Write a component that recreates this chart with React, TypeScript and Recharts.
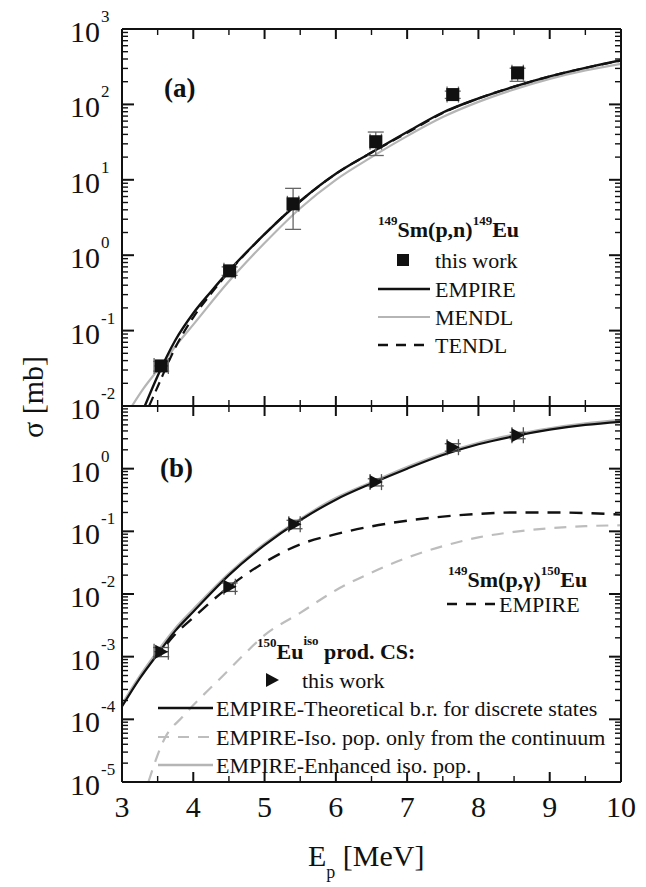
import React from 'react';
import { ComposedChart, Line, Scatter, XAxis, YAxis, ErrorBar } from 'recharts';

const FONT = '"Liberation Serif", "Times New Roman", Times, serif';
const INK = '#111';

// x axis (proton energy, MeV)
const xTicks = [3, 3.5, 4, 4.5, 5, 5.5, 6, 6.5, 7, 7.5, 8, 8.5, 9, 9.5, 10];
const xLabels = ['3', '4', '5', '6', '7', '8', '9', '10'];

// decades shown on each panel
const decadesA = [-2, -1, 0, 1, 2, 3];
const decadesB = [-5, -4, -3, -2, -1, 0, 1];

// (a) 149Sm(p,n)149Eu — measured
const pnE = [3.55, 4.51, 5.4, 6.56, 7.64, 8.55];
const pnSigma = [0.034, 0.62, 4.8, 32, 135, 262];
const pnErrY = [[0.005, 0.005], [0.08, 0.08], [2.6, 2.9], [11, 11], [15, 15], [60, 40]];
const pnErrX = [0.1, 0.08, 0.08, 0.08, 0.08, 0.08];

// (a) model curves
const empireAE = [3.32, 3.5, 3.75, 4, 4.25, 4.5, 5, 5.5, 6, 6.5, 7, 7.5, 8, 8.5, 9, 9.5, 10];
const empireAS = [0.01, 0.025, 0.075, 0.17, 0.33, 0.62, 1.9, 5.2, 12, 23, 43, 78, 120, 172, 235, 305, 385];
const mendlE = [3.14, 3.3, 3.5, 3.75, 4, 4.5, 5, 5.5, 6, 6.5, 7, 7.5, 8, 8.5, 9, 9.5, 10];
const mendlS = [0.01, 0.017, 0.03, 0.062, 0.12, 0.45, 1.45, 4.2, 10, 20, 38, 68, 108, 158, 218, 282, 345];
const tendlE = [3.38, 3.5, 3.75, 4, 4.25, 4.5, 5, 5.5, 6, 6.5, 7, 7.5, 8, 8.5, 9, 9.5, 10];
const tendlS = [0.01, 0.018, 0.06, 0.15, 0.31, 0.6, 1.9, 5.2, 12, 23, 42, 77, 120, 172, 235, 305, 380];

// (b) 150Eu isomer production — measured
const isoE = [3.55, 4.51, 5.42, 6.56, 7.64, 8.55];
const isoSigma = [0.0012, 0.013, 0.13, 0.61, 2.2, 3.4];
const isoErrY = [[0.0002, 0.0002], [0.002, 0.002], [0.02, 0.02], [0.08, 0.08], [0.3, 0.3], [0.4, 0.4]];
const isoErrX = [0.1, 0.08, 0.08, 0.08, 0.08, 0.08];

// (b) model curves
const theoE = [3, 3.25, 3.5, 3.75, 4, 4.5, 5, 5.5, 6, 6.5, 7, 7.5, 8, 8.5, 9, 9.5, 10];
const theoS = [1.6e-4, 4.5e-4, 1.1e-3, 2.6e-3, 5.2e-3, 0.02, 0.06, 0.15, 0.32, 0.58, 1.0, 1.65, 2.45, 3.3, 4.2, 5.0, 5.6];
const enhS = [1.7e-4, 4.8e-4, 1.2e-3, 2.8e-3, 5.6e-3, 0.021, 0.063, 0.155, 0.335, 0.6, 1.05, 1.72, 2.55, 3.45, 4.35, 5.2, 5.9];
const contE = [3.37, 3.6, 3.85, 4.15, 4.42, 4.7, 5, 5.5, 6, 6.5, 7, 7.5, 8, 8.5, 9, 9.5, 10];
const contS = [1e-5, 5e-5, 1.1e-4, 2.5e-4, 5e-4, 1.05e-3, 2.2e-3, 5e-3, 0.0115, 0.022, 0.038, 0.058, 0.08, 0.098, 0.112, 0.121, 0.125];
const pgE = [3.63, 3.75, 4, 4.5, 5, 5.5, 6, 6.5, 7, 7.5, 8, 8.5, 9, 9.5, 10];
const pgS = [1.6e-3, 2.3e-3, 4.2e-3, 0.013, 0.032, 0.062, 0.09, 0.12, 0.148, 0.172, 0.19, 0.2, 0.2, 0.196, 0.185];

const pts = (xs: number[], ys: number[]) => xs.map((x, i) => ({ x, y: ys[i] }));
const measured = (xs: number[], ys: number[], ey: number[][], ex: number[]) =>
  xs.map((x, i) => ({ x, y: ys[i], ey: ey[i], ex: ex[i] }));

const logTicks = (decades: number[]) => {
  const out: number[] = [];
  decades.forEach((d, i) => {
    const base = Math.pow(10, d);
    if (i === decades.length - 1) {
      out.push(base);
      return;
    }
    for (let m = 1; m < 10; m++) out.push(m * base);
  });
  return out;
};

const isDecade = (v: number) => {
  const e = Math.round(Math.log10(v));
  return Math.abs(v / Math.pow(10, e) - 1) < 1e-6;
};

function YTick(props: any) {
  const { x, y, payload, side, labelled } = props;
  const v = payload.value as number;
  const major = isDecade(v);
  const len = major ? 12 : 6;
  const dx = side === 'left' ? len : -len;
  const exp = Math.round(Math.log10(v));
  return (
    <g>
      <line x1={x} y1={y} x2={x + dx} y2={y} stroke={INK} strokeWidth={major ? 2 : 1.4} />
      {side === 'left' && major && labelled.includes(exp) && (
        <g fill={INK}>
          <text x={100} y={y + 13} textAnchor="end" fontSize={30} style={{ fontFamily: FONT }}>10</text>
          <text x={101} y={y - 7} textAnchor="start" fontSize={17} style={{ fontFamily: FONT }}>{String(exp)}</text>
        </g>
      )}
    </g>
  );
}

function XTick(props: any) {
  const { x, y, payload, side, labelled } = props;
  const v = payload.value as number;
  const major = Number.isInteger(v);
  const len = major ? 10 : 6;
  const dy = side === 'top' ? len : -len;
  const label = xLabels.find((l) => Number(l) === v);
  return (
    <g>
      <line x1={x} y1={y} x2={x} y2={y + dy} stroke={INK} strokeWidth={major ? 2 : 1.4} />
      {labelled && major && label && (
        <text x={x} y={y + 35} textAnchor="middle" style={{ fontFamily: FONT }} fontSize={30} fill={INK}>
          {label}
        </text>
      )}
    </g>
  );
}

const Square = (p: any) => <rect x={p.cx - 6.5} y={p.cy - 6.5} width={13} height={13} fill={INK} />;
const TriRight = (p: any) => (
  <polygon points={`${p.cx - 6},${p.cy - 7} ${p.cx + 7},${p.cy} ${p.cx - 6},${p.cy + 7}`} fill={INK} />
);

// axis boxes are 1px thick (recharts skips zero-size axes), margins compensate
function axes(domain: [number, number], ticksY: number[], labelledY: number[], bottomLabels: boolean) {
  const axisLine = { stroke: INK, strokeWidth: 2 };
  const common = { tickSize: 0, tickMargin: 0, tickLine: false, axisLine, allowDataOverflow: true, interval: 0 as const };
  return [
    <XAxis key="xb" xAxisId="b" dataKey="x" type="number" domain={[3, 10]} ticks={xTicks} height={1} {...common}
      tick={(p: any) => <XTick {...p} side="bottom" labelled={bottomLabels} />} />,
    <XAxis key="xt" xAxisId="t" orientation="top" dataKey="x" type="number" domain={[3, 10]} ticks={xTicks} height={1} {...common}
      tick={(p: any) => <XTick {...p} side="top" labelled={false} />} />,
    <YAxis key="yl" yAxisId="l" type="number" scale="log" domain={domain} ticks={ticksY} width={1} {...common}
      tick={(p: any) => <YTick {...p} side="left" labelled={labelledY} />} />,
    <YAxis key="yr" yAxisId="r" orientation="right" type="number" scale="log" domain={domain} ticks={ticksY} width={1} {...common}
      tick={(p: any) => <YTick {...p} side="right" labelled={[]} />} />,
  ];
}

const ids = { xAxisId: 'b', yAxisId: 'l' };

function PanelA() {
  return (
    <ComposedChart width={646} height={887} margin={{ top: 28, right: 24, bottom: 480, left: 121 }}>
      {axes([1e-2, 1e3], logTicks(decadesA), decadesA, false)}
      <Line {...ids} data={pts(mendlE, mendlS)} dataKey="y" type="monotone" stroke="#b5b5b5" strokeWidth={2.2} dot={false} isAnimationActive={false} />
      <Line {...ids} data={pts(tendlE, tendlS)} dataKey="y" type="monotone" stroke={INK} strokeWidth={2.2} strokeDasharray="10 6" dot={false} isAnimationActive={false} />
      <Line {...ids} data={pts(empireAE, empireAS)} dataKey="y" type="monotone" stroke={INK} strokeWidth={2.4} dot={false} isAnimationActive={false} />
      <Scatter {...ids} data={measured(pnE, pnSigma, pnErrY, pnErrX)} dataKey="y" shape={Square} isAnimationActive={false}>
        <ErrorBar dataKey="ey" direction="y" width={8} stroke="#666" strokeWidth={1.3} />
        <ErrorBar dataKey="ex" direction="x" width={8} stroke="#666" strokeWidth={1.3} />
      </Scatter>
    </ComposedChart>
  );
}

function PanelB() {
  return (
    <ComposedChart width={646} height={887} margin={{ top: 405, right: 24, bottom: 104, left: 121 }}>
      {axes([1e-5, 1e1], logTicks(decadesB), decadesB.slice(0, -1), true)}
      <Line {...ids} data={pts(contE, contS)} dataKey="y" type="monotone" stroke="#bdbdbd" strokeWidth={2.2} strokeDasharray="12 9" dot={false} isAnimationActive={false} />
      <Line {...ids} data={pts(pgE, pgS)} dataKey="y" type="monotone" stroke={INK} strokeWidth={2.4} strokeDasharray="13 9" dot={false} isAnimationActive={false} />
      <Line {...ids} data={pts(theoE, enhS)} dataKey="y" type="monotone" stroke="#b5b5b5" strokeWidth={3} dot={false} isAnimationActive={false} />
      <Line {...ids} data={pts(theoE, theoS)} dataKey="y" type="monotone" stroke={INK} strokeWidth={2.2} dot={false} isAnimationActive={false} />
      <Scatter {...ids} data={measured(isoE, isoSigma, isoErrY, isoErrX)} dataKey="y" shape={TriRight} isAnimationActive={false}>
        <ErrorBar dataKey="ey" direction="y" width={8} stroke="#555" strokeWidth={1.3} />
        <ErrorBar dataKey="ex" direction="x" width={8} stroke="#555" strokeWidth={1.3} />
      </Scatter>
    </ComposedChart>
  );
}

function Annotations() {
  const f = { fontFamily: FONT };
  return (
    <svg width={646} height={887} style={{ position: 'absolute', left: 0, top: 0, pointerEvents: 'none' }}>
      <g fill={INK}>
        <text transform="translate(43 397) rotate(-90)" textAnchor="middle" fontSize={30} style={f}>σ [mb]</text>
        <text x={308} y={866} fontSize={30} style={f}>
          E<tspan dy={12} fontSize={18}>p</tspan>
          <tspan dy={-12}> [MeV]</tspan>
        </text>
        <text x={164} y={97} fontSize={27} fontWeight="bold" style={f}>(a)</text>
        <text x={160} y={477} fontSize={27} fontWeight="bold" style={f}>(b)</text>

        {/* legend (a) */}
        <text x={378} y={237} fontSize={22} fontWeight="bold" style={f}>
          <tspan fontSize={13} dy={-12}>149</tspan>
          <tspan dy={12}>Sm(p,n)</tspan>
          <tspan fontSize={13} dy={-12}>149</tspan>
          <tspan dy={12}>Eu</tspan>
        </text>
        <rect x={397} y={254} width={12} height={12} fill={INK} />
        <text x={435} y={268} fontSize={22} style={f}>this work</text>
        <line x1={378} x2={430} y1={289} y2={289} stroke={INK} strokeWidth={2.4} />
        <text x={435} y={297} fontSize={22} style={f}>EMPIRE</text>
        <line x1={378} x2={430} y1={317} y2={317} stroke="#b5b5b5" strokeWidth={2.2} />
        <text x={435} y={325} fontSize={22} style={f}>MENDL</text>
        <line x1={378} x2={430} y1={345} y2={345} stroke={INK} strokeWidth={2.4} strokeDasharray="10 8" />
        <text x={435} y={353} fontSize={22} style={f}>TENDL</text>

        {/* legend (b), reaction */}
        <text x={448} y={587} fontSize={22} fontWeight="bold" style={f}>
          <tspan fontSize={13} dy={-12}>149</tspan>
          <tspan dy={12}>Sm(p,γ)</tspan>
          <tspan fontSize={13} dy={-12}>150</tspan>
          <tspan dy={12}>Eu</tspan>
        </text>
        <line x1={447} x2={500} y1={604} y2={604} stroke={INK} strokeWidth={2.4} strokeDasharray="10 9" />
        <text x={499} y={612} fontSize={22} style={f}>EMPIRE</text>

        {/* legend (b), isomer */}
        <text x={257} y={659} fontSize={22} fontWeight="bold" style={f}>
          <tspan fontSize={13} dy={-12}>150</tspan>
          <tspan dy={12}>Eu</tspan>
          <tspan fontSize={13} dy={-14}>iso</tspan>
          <tspan dy={14}> prod. CS:</tspan>
        </text>
        <polygon points="266,673 279,680 266,687" fill={INK} />
        <text x={302} y={688} fontSize={22} style={f}>this work</text>
        <line x1={158} x2={213} y1={708} y2={708} stroke={INK} strokeWidth={2.4} />
        <text x={216} y={716} fontSize={22} style={f}>EMPIRE-Theoretical b.r. for discrete states</text>
        <line x1={158} x2={213} y1={737} y2={737} stroke="#bdbdbd" strokeWidth={2.2} strokeDasharray="11 9" />
        <text x={216} y={745} fontSize={22} style={f}>EMPIRE-Iso. pop. only from the continuum</text>
        <line x1={158} x2={213} y1={765} y2={765} stroke="#b5b5b5" strokeWidth={2.4} />
        <text x={216} y={773} fontSize={22} style={f}>EMPIRE-Enhanced iso. pop.</text>
      </g>
    </svg>
  );
}

export default function App() {
  return (
    <div style={{ position: 'absolute', left: 0, top: 0, width: 646, height: 887, background: '#fff' }}>
      <div style={{ position: 'absolute', left: 0, top: 0 }}>
        <PanelA />
      </div>
      <div style={{ position: 'absolute', left: 0, top: 0 }}>
        <PanelB />
      </div>
      <Annotations />
    </div>
  );
}
